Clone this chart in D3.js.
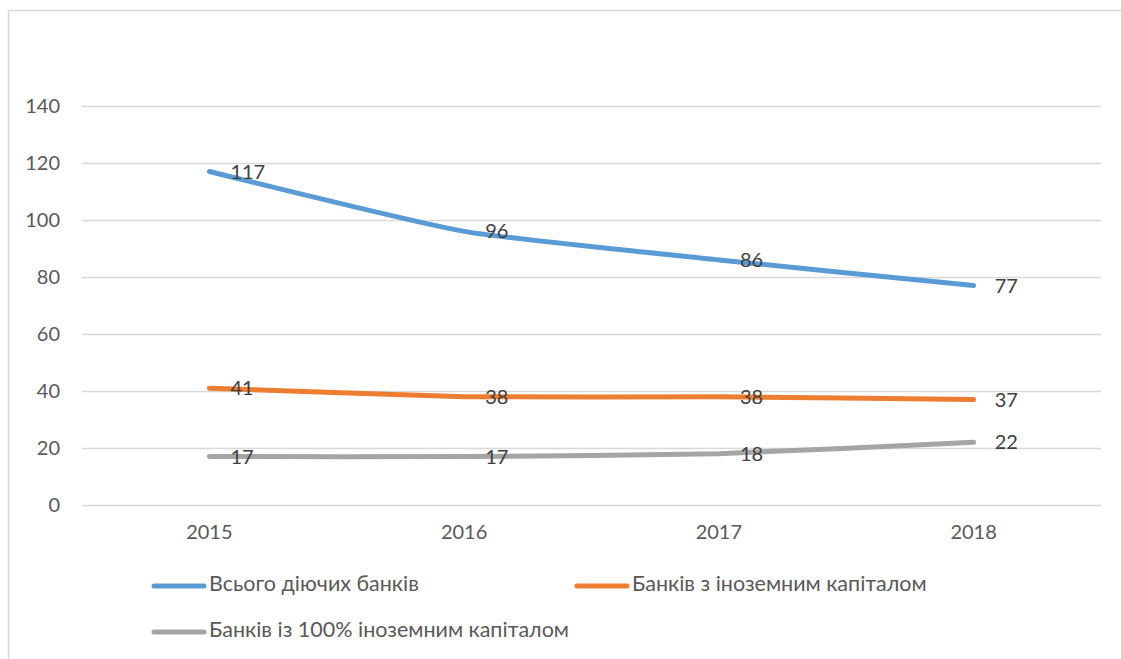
<!DOCTYPE html>
<html>
<head>
<meta charset="utf-8">
<script src="https://cdn.jsdelivr.net/npm/d3@7"></script>
<style>
  body { margin: 0; background: #fff; }
  text { font-family: Lato, "Open Sans", sans-serif; }
</style>
</head>
<body>
<div id="container"></div>
<script>
// chart data
const years = ["2015", "2016", "2017", "2018"];
const seriesNames = ["Всього діючих банків", "Банків з іноземним капіталом", "Банків із 100% іноземним капіталом"];
const totalBanks = [117, 96, 86, 77];
const foreignBanks = [41, 38, 38, 37];
const fullForeignBanks = [17, 17, 18, 22];
const yTicks = [0, 20, 40, 60, 80, 100, 120, 140];
const colors = ["#5b9bd5", "#ed7d31", "#a5a5a5"];

const series = [totalBanks, foreignBanks, fullForeignBanks].map((vals, i) => ({
    name: seriesNames[i],
    color: colors[i],
    values: vals.map((v, j) => ({ year: years[j], value: v }))
}));

const width = 1121, height = 659;
const marginLeft = 82, marginTop = 106;
const plotRight = 1101, plotBottom = 505;

const svg = d3.select("#container").append("svg")
    .attr("width", width)
    .attr("height", height)
    .attr("viewBox", [0, 0, width, height]);

// chart area border (only top and left visible in the picture)
svg.append("path")
    .attr("d", `M8.5,${height} V10.5 H${width}`)
    .attr("fill", "none")
    .attr("stroke", "#d9d9d9")
    .attr("stroke-width", 1.5);

const x = d3.scaleBand()
    .domain(years)
    .range([marginLeft, plotRight]);

const y = d3.scaleLinear()
    .domain([0, 140])
    .range([plotBottom, marginTop]);

const cx = d => x(d) + x.bandwidth() / 2;

// gridlines + y labels
svg.append("g")
    .attr("transform", `translate(${marginLeft},0)`)
    .call(d3.axisLeft(y).tickValues(yTicks).tickSize(-(plotRight - marginLeft)).tickPadding(22))
    .call(g => g.select(".domain").remove())
    .call(g => g.selectAll(".tick line").attr("stroke", "#d9d9d9").attr("stroke-width", 1.3))
    .call(g => g.selectAll(".tick text")
        .attr("fill", "#595959")
        .attr("font-size", 20)
        .attr("font-family", "Lato, 'Open Sans', sans-serif"));

// x labels
svg.append("g")
    .attr("transform", `translate(0,${plotBottom})`)
    .call(d3.axisBottom(x).tickSize(0).tickPadding(20))
    .call(g => g.select(".domain").remove())
    .call(g => g.selectAll(".tick text")
        .attr("fill", "#595959")
        .attr("font-size", 20)
        .attr("font-family", "Lato, 'Open Sans', sans-serif"));

// excel-like smoothed lines
const line = d3.line()
    .x(d => cx(d.year))
    .y(d => y(d.value))
    .curve(d3.curveCardinal.tension(0.5));

svg.append("g")
    .selectAll("path")
    .data(series)
    .join("path")
    .attr("d", d => line(d.values))
    .attr("fill", "none")
    .attr("stroke", d => d.color)
    .attr("stroke-width", 5)
    .attr("stroke-linecap", "round");

// data labels, to the right of each point
svg.append("g")
    .selectAll("g")
    .data(series)
    .join("g")
    .selectAll("text")
    .data(d => d.values)
    .join("text")
    .attr("x", d => cx(d.year) + 21)
    .attr("y", d => y(d.value) + 2)
    .attr("dominant-baseline", "middle")
    .attr("fill", "#404040")
    .attr("font-size", 20)
    .text(d => d.value);

// legend
const legendPos = [[152, 586], [575, 586], [152, 632]];
const legend = svg.append("g")
    .selectAll("g")
    .data(series)
    .join("g")
    .attr("transform", (d, i) => `translate(${legendPos[i][0]},${legendPos[i][1]})`);

legend.append("line")
    .attr("x1", 2).attr("x2", 52)
    .attr("stroke", d => d.color)
    .attr("stroke-width", 5)
    .attr("stroke-linecap", "round");

legend.append("text")
    .attr("x", 57)
    .attr("dominant-baseline", "middle")
    .attr("fill", "#595959")
    .attr("font-size", 21.5)
    .text(d => d.name);
</script>
</body>
</html>
